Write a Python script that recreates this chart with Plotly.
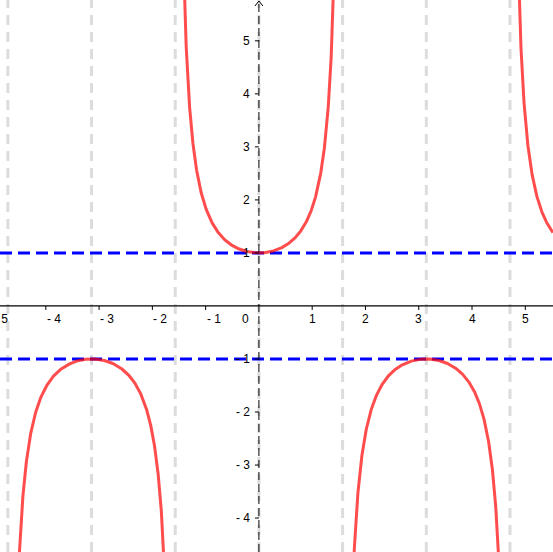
import numpy as np
import plotly.graph_objects as go

# View window
x_range = [-4.86, 5.52]
y_range = [-4.64, 5.77]
W, H = 553, 552

# Function plotted: f(x) = sec(x) = 1/cos(x)
x_vals = np.linspace(-4.86, 5.52, 4000)
cos_vals = np.cos(x_vals)
y_vals = 1.0 / cos_vals
y_vals[np.abs(y_vals) > 12] = np.nan

# Horizontal guide lines
guide_y = [1, -1]
# Vertical gray guide lines at multiples of pi/2
guide_x = [k * np.pi / 2 for k in range(-3, 4)]

# Tick labels
x_ticks = [-5, -4, -3, -2, -1, 1, 2, 3, 4, 5]
x_tick_text = ["- 5", "- 4", "- 3", "- 2", "- 1", "1", "2", "3", "4", "5"]
y_ticks = [-4, -3, -2, -1, 1, 2, 3, 4, 5]
y_tick_text = ["- 4", "- 3", "- 2", "- 1", "1", "2", "3", "4", "5"]

px_per_x = W / (x_range[1] - x_range[0])

fig = go.Figure()

shapes = []
for gx in guide_x:
    shapes.append(dict(type="line", xref="x", yref="y", x0=gx, x1=gx,
                       y0=y_range[0], y1=y_range[1], layer="below",
                       line=dict(color="#dcdcdc", width=3, dash="10px,7px")))
# x axis
shapes.append(dict(type="line", xref="x", yref="y", x0=x_range[0], x1=x_range[1],
                   y0=0, y1=0, line=dict(color="black", width=1.2)))
# y axis (dashed)
shapes.append(dict(type="line", xref="x", yref="y", x0=0, x1=0,
                   y0=y_range[0], y1=y_range[1],
                   line=dict(color="black", width=1, dash="8px,4px")))
# x ticks
for t in x_ticks:
    shapes.append(dict(type="line", xref="x", yref="y", xsizemode="pixel", ysizemode="pixel",
                       xanchor=t, yanchor=0, x0=0, x1=0, y0=0, y1=-4,
                       line=dict(color="black", width=1)))
# y ticks
for t in y_ticks:
    shapes.append(dict(type="line", xref="x", yref="y", xsizemode="pixel", ysizemode="pixel",
                       xanchor=0, yanchor=t, x0=0, x1=-4, y0=0, y1=0,
                       line=dict(color="black", width=1)))
# arrow head on y axis
shapes.append(dict(type="path", xref="x", yref="y", xsizemode="pixel", ysizemode="pixel",
                   xanchor=0, yanchor=y_range[1], path="M -4,-6 L 0,-1 L 4,-6",
                   line=dict(color="black", width=1)))

font = dict(family="Liberation Sans, Arial", size=12, color="black")

annotations = []
for t, s in zip(x_ticks, x_tick_text):
    if t < x_range[0]:
        # anchor at the left edge so the partially visible label is still drawn
        annotations.append(dict(x=x_range[0], y=0, xref="x", yref="y", text=s, showarrow=False,
                                xanchor="left", yanchor="middle",
                                xshift=(t - x_range[0]) * px_per_x - 1, yshift=-13, font=font))
        continue
    annotations.append(dict(x=t, y=0, xref="x", yref="y", text=s, showarrow=False,
                            xanchor="left" if t < 0 else "center", yanchor="middle",
                            xshift=-1 if t < 0 else 0, yshift=-13, font=font))
for t, s in zip(y_ticks, y_tick_text):
    annotations.append(dict(x=0, y=t, xref="x", yref="y", text=s, showarrow=False,
                            xanchor="right", yanchor="middle", xshift=-7, font=font))
annotations.append(dict(x=0, y=0, xref="x", yref="y", text="0", showarrow=False,
                        xanchor="right", yanchor="middle", xshift=-8, yshift=-13, font=font))

# blue dashed lines
for gy in guide_y:
    fig.add_trace(go.Scatter(x=x_range, y=[gy, gy], mode="lines", hoverinfo="skip",
                             line=dict(color="#0000ff", width=3, dash="12px,6px"),
                             showlegend=False))

# red curve
fig.add_trace(go.Scatter(x=x_vals, y=y_vals, mode="lines", connectgaps=False,
                         line=dict(color="rgba(255,0,0,0.7)", width=3), showlegend=False))

fig.update_layout(
    width=W, height=H, margin=dict(l=0, r=0, t=0, b=0),
    paper_bgcolor="white", plot_bgcolor="white",
    shapes=shapes, annotations=annotations,
    xaxis=dict(range=x_range, visible=False, showgrid=False, zeroline=False),
    yaxis=dict(range=y_range, visible=False, showgrid=False, zeroline=False),
)

fig.write_html("out.html", config={"displayModeBar": False},
               post_script="document.body.style.margin='0';document.body.style.overflow='hidden';")
